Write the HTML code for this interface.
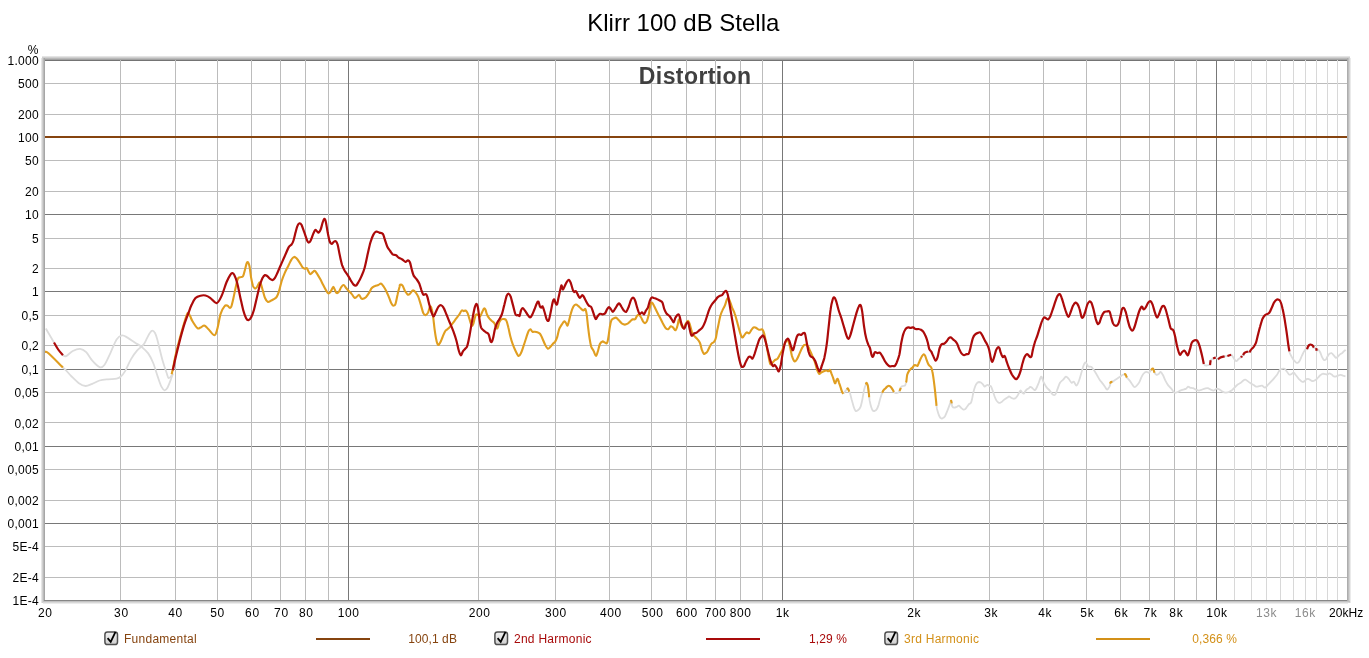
<!DOCTYPE html>
<html><head><meta charset="utf-8"><title>Klirr 100 dB Stella</title>
<style>
html,body{margin:0;padding:0;background:#fff;}
body{width:1369px;height:658px;overflow:hidden;position:relative;font-family:"Liberation Sans",sans-serif;}
svg{position:absolute;left:0;top:0;will-change:transform;}
text{font-family:"Liberation Sans",sans-serif;}
</style></head><body>
<svg width="1369" height="658" viewBox="0 0 1369 658">
<defs>
<linearGradient id="cb" x1="0" y1="0" x2="0" y2="1"><stop offset="0" stop-color="#f2f2f2"/><stop offset="1" stop-color="#cfcfcf"/></linearGradient>
<clipPath id="cp"><rect x="45.0" y="61.0" width="1302.0" height="539.0"/></clipPath>
</defs>
<rect x="0" y="0" width="1369" height="658" fill="#ffffff"/>
<rect x="44" y="60" width="1304" height="1" fill="#747474" shape-rendering="crispEdges"/>
<g shape-rendering="crispEdges" stroke-width="1">
<line x1="45.0" y1="577.5" x2="1347.0" y2="577.5" stroke="#bcbcbc"/>
<line x1="45.0" y1="546.5" x2="1347.0" y2="546.5" stroke="#bcbcbc"/>
<line x1="45.0" y1="500.5" x2="1347.0" y2="500.5" stroke="#bcbcbc"/>
<line x1="45.0" y1="469.5" x2="1347.0" y2="469.5" stroke="#bcbcbc"/>
<line x1="45.0" y1="422.5" x2="1347.0" y2="422.5" stroke="#bcbcbc"/>
<line x1="45.0" y1="392.5" x2="1347.0" y2="392.5" stroke="#bcbcbc"/>
<line x1="45.0" y1="345.5" x2="1347.0" y2="345.5" stroke="#bcbcbc"/>
<line x1="45.0" y1="315.5" x2="1347.0" y2="315.5" stroke="#bcbcbc"/>
<line x1="45.0" y1="268.5" x2="1347.0" y2="268.5" stroke="#bcbcbc"/>
<line x1="45.0" y1="238.5" x2="1347.0" y2="238.5" stroke="#bcbcbc"/>
<line x1="45.0" y1="191.5" x2="1347.0" y2="191.5" stroke="#bcbcbc"/>
<line x1="45.0" y1="160.5" x2="1347.0" y2="160.5" stroke="#bcbcbc"/>
<line x1="45.0" y1="114.5" x2="1347.0" y2="114.5" stroke="#bcbcbc"/>
<line x1="45.0" y1="83.5" x2="1347.0" y2="83.5" stroke="#bcbcbc"/>
<line x1="45.0" y1="523.5" x2="1347.0" y2="523.5" stroke="#787878"/>
<line x1="45.0" y1="446.5" x2="1347.0" y2="446.5" stroke="#787878"/>
<line x1="45.0" y1="369.5" x2="1347.0" y2="369.5" stroke="#787878"/>
<line x1="45.0" y1="291.5" x2="1347.0" y2="291.5" stroke="#787878"/>
<line x1="45.0" y1="214.5" x2="1347.0" y2="214.5" stroke="#787878"/>
<line x1="45.0" y1="137.5" x2="1347.0" y2="137.5" stroke="#787878"/>
<line x1="120.5" y1="60.0" x2="120.5" y2="600.0" stroke="#bcbcbc"/>
<line x1="175.5" y1="60.0" x2="175.5" y2="600.0" stroke="#bcbcbc"/>
<line x1="217.5" y1="60.0" x2="217.5" y2="600.0" stroke="#bcbcbc"/>
<line x1="251.5" y1="60.0" x2="251.5" y2="600.0" stroke="#bcbcbc"/>
<line x1="280.5" y1="60.0" x2="280.5" y2="600.0" stroke="#bcbcbc"/>
<line x1="305.5" y1="60.0" x2="305.5" y2="600.0" stroke="#bcbcbc"/>
<line x1="328.5" y1="60.0" x2="328.5" y2="600.0" stroke="#bcbcbc"/>
<line x1="478.5" y1="60.0" x2="478.5" y2="600.0" stroke="#bcbcbc"/>
<line x1="555.5" y1="60.0" x2="555.5" y2="600.0" stroke="#bcbcbc"/>
<line x1="609.5" y1="60.0" x2="609.5" y2="600.0" stroke="#bcbcbc"/>
<line x1="651.5" y1="60.0" x2="651.5" y2="600.0" stroke="#bcbcbc"/>
<line x1="686.5" y1="60.0" x2="686.5" y2="600.0" stroke="#bcbcbc"/>
<line x1="715.5" y1="60.0" x2="715.5" y2="600.0" stroke="#bcbcbc"/>
<line x1="740.5" y1="60.0" x2="740.5" y2="600.0" stroke="#bcbcbc"/>
<line x1="762.5" y1="60.0" x2="762.5" y2="600.0" stroke="#bcbcbc"/>
<line x1="913.5" y1="60.0" x2="913.5" y2="600.0" stroke="#bcbcbc"/>
<line x1="989.5" y1="60.0" x2="989.5" y2="600.0" stroke="#bcbcbc"/>
<line x1="1043.5" y1="60.0" x2="1043.5" y2="600.0" stroke="#bcbcbc"/>
<line x1="1086.5" y1="60.0" x2="1086.5" y2="600.0" stroke="#bcbcbc"/>
<line x1="1120.5" y1="60.0" x2="1120.5" y2="600.0" stroke="#bcbcbc"/>
<line x1="1149.5" y1="60.0" x2="1149.5" y2="600.0" stroke="#bcbcbc"/>
<line x1="1174.5" y1="60.0" x2="1174.5" y2="600.0" stroke="#bcbcbc"/>
<line x1="1196.5" y1="60.0" x2="1196.5" y2="600.0" stroke="#bcbcbc"/>
<line x1="1234.5" y1="60.0" x2="1234.5" y2="600.0" stroke="#d8d8d8"/>
<line x1="1251.5" y1="60.0" x2="1251.5" y2="600.0" stroke="#d8d8d8"/>
<line x1="1266.5" y1="60.0" x2="1266.5" y2="600.0" stroke="#d8d8d8"/>
<line x1="1280.5" y1="60.0" x2="1280.5" y2="600.0" stroke="#d8d8d8"/>
<line x1="1293.5" y1="60.0" x2="1293.5" y2="600.0" stroke="#d8d8d8"/>
<line x1="1305.5" y1="60.0" x2="1305.5" y2="600.0" stroke="#d8d8d8"/>
<line x1="1316.5" y1="60.0" x2="1316.5" y2="600.0" stroke="#d8d8d8"/>
<line x1="1327.5" y1="60.0" x2="1327.5" y2="600.0" stroke="#d8d8d8"/>
<line x1="1337.5" y1="60.0" x2="1337.5" y2="600.0" stroke="#d8d8d8"/>
<line x1="348.5" y1="60.0" x2="348.5" y2="600.0" stroke="#787878"/>
<line x1="782.5" y1="60.0" x2="782.5" y2="600.0" stroke="#787878"/>
<line x1="1216.5" y1="60.0" x2="1216.5" y2="600.0" stroke="#787878"/>
</g>
<g clip-path="url(#cp)">
<path d="M62.9 367.4 C63.3 367.8 64.1 368.3 65.5 369.8 C67.0 371.4 69.4 374.3 71.6 376.5 C73.8 378.7 76.6 381.6 78.9 383.2 C81.2 384.8 83.4 385.9 85.6 386.0 C87.8 386.1 89.9 384.7 92.3 383.8 C94.6 382.9 96.9 381.3 99.6 380.5 C102.2 379.8 105.2 379.6 108.1 379.3 C110.9 379.0 114.4 379.2 116.6 378.7 C118.7 378.2 119.4 377.8 120.8 376.5 C122.2 375.2 123.4 374.0 125.1 371.1 C126.8 368.1 129.1 362.3 131.2 358.9 C133.2 355.5 135.2 352.7 137.2 350.4 C139.3 348.1 141.7 346.9 143.3 344.9 C144.9 342.9 145.9 340.3 147.0 338.2 C148.1 336.2 149.1 334.0 150.0 332.8 C150.9 331.5 151.6 330.7 152.4 330.7 C153.2 330.7 154.1 331.3 154.9 332.8 C155.7 334.2 156.5 336.7 157.3 339.4 C158.1 342.2 158.8 345.5 159.7 349.2 C160.6 352.8 161.7 357.5 162.8 361.3 C163.9 365.2 165.4 369.5 166.4 372.3 C167.4 375.1 167.8 377.8 168.7 378.2 C169.7 378.6 171.6 375.4 172.1 374.8" fill="none" stroke="#dcdcdc" stroke-width="1.8" stroke-linejoin="round" stroke-linecap="butt"/>
<path d="M843.4 393.7 C843.7 393.4 844.3 392.3 844.9 391.6 C845.5 390.9 846.2 390.0 846.8 389.5 C847.3 389.0 847.6 388.1 848.0 388.5 C848.4 388.8 848.9 390.9 849.2 391.6 C849.6 392.3 849.5 391.5 849.9 392.8 C850.3 394.2 851.1 397.4 851.7 399.7 C852.4 401.9 853.0 404.6 853.6 406.5 C854.2 408.4 854.7 410.2 855.5 410.8 C856.2 411.5 857.1 410.8 857.9 410.2 C858.8 409.6 859.7 408.9 860.4 407.1 C861.1 405.4 861.7 402.6 862.3 399.7 C862.9 396.8 863.6 392.3 864.1 389.7 C864.7 387.2 865.3 385.7 865.8 384.5 C866.2 383.4 866.3 382.7 866.6 382.9 C867.0 383.2 867.5 384.5 867.9 386.0 C868.2 387.6 868.4 389.7 868.7 392.2 C869.1 394.7 869.3 398.4 869.7 400.9 C870.2 403.4 870.7 405.5 871.2 407.1 C871.7 408.7 872.3 410.0 872.8 410.6 C873.4 411.2 874.0 411.1 874.7 410.8 C875.4 410.6 876.3 410.0 876.9 409.0 C877.6 407.9 878.1 406.4 878.7 404.6 C879.2 402.9 879.7 400.4 880.3 398.4 C880.9 396.5 881.6 394.2 882.2 392.8 C882.7 391.5 882.9 391.1 883.4 390.4 C883.9 389.6 884.6 389.1 885.3 388.5 C885.9 387.9 886.5 387.1 887.1 386.6 C887.7 386.2 888.4 385.7 889.0 385.8 C889.6 385.8 890.2 386.3 890.8 387.0 C891.5 387.7 892.2 388.9 892.7 389.7 C893.2 390.6 893.5 391.5 894.0 392.0 C894.4 392.5 894.6 392.7 895.2 392.8 C895.8 393.0 897.0 393.2 897.7 392.8 C898.4 392.5 899.0 391.8 899.5 391.0 C900.1 390.2 900.5 388.6 900.8 387.9 C901.1 387.1 901.0 386.9 901.4 386.6 C901.8 386.3 902.6 386.2 903.3 386.0 C903.9 385.8 904.7 386.0 905.1 385.4 C905.6 384.8 905.9 383.0 906.0 382.5" fill="none" stroke="#dcdcdc" stroke-width="1.8" stroke-linejoin="round" stroke-linecap="butt"/>
<path d="M936.5 405.9 C936.6 406.4 936.7 407.5 937.0 409.0 C937.4 410.4 938.1 413.1 938.7 414.6 C939.2 416.1 939.9 417.4 940.5 418.0 C941.1 418.7 941.7 418.6 942.4 418.3 C943.1 418.0 944.0 417.7 944.9 416.4 C945.7 415.2 946.6 412.6 947.3 410.8 C948.1 409.1 948.7 407.4 949.2 405.9 C949.8 404.4 950.4 402.8 950.7 401.9 C951.0 401.0 951.0 400.4 951.2 400.7 C951.4 400.9 951.5 402.4 951.7 403.4 C951.9 404.4 951.9 405.8 952.3 406.5 C952.7 407.2 953.5 407.7 954.2 407.7 C954.9 407.8 955.9 407.2 956.7 406.9 C957.4 406.5 958.2 405.5 958.9 405.6 C959.6 405.8 960.2 407.1 961.0 407.7 C961.8 408.4 962.8 409.4 963.5 409.6 C964.2 409.8 964.7 409.5 965.4 409.0 C966.0 408.5 966.6 407.3 967.2 406.5 C967.8 405.7 968.5 404.6 969.1 404.0 C969.7 403.4 970.4 403.7 970.9 402.8 C971.5 401.8 971.8 400.2 972.2 398.4 C972.6 396.7 972.9 394.3 973.4 392.2 C973.9 390.2 974.7 387.6 975.3 386.0 C975.9 384.5 976.5 383.6 977.2 382.9 C977.8 382.2 978.4 382.1 979.0 382.0 C979.6 382.0 980.3 382.2 980.9 382.5 C981.5 382.9 982.1 383.5 982.7 384.1 C983.4 384.8 984.0 386.4 984.6 386.6 C985.2 386.8 985.7 385.7 986.2 385.4 C986.7 385.1 987.1 384.7 987.7 384.8 C988.3 384.9 989.0 385.7 989.6 386.0 C990.1 386.3 990.5 385.6 991.0 386.4 C991.5 387.3 992.2 389.3 992.8 391.0 C993.4 392.7 994.0 394.9 994.6 396.5 C995.2 398.1 995.9 399.6 996.5 400.6 C997.1 401.6 997.7 402.0 998.3 402.4 C998.9 402.8 999.5 403.0 1000.1 402.8 C1000.7 402.7 1001.3 402.2 1001.9 401.8 C1002.5 401.3 1003.1 400.4 1003.8 399.9 C1004.4 399.4 1005.0 399.1 1005.6 398.7 C1006.2 398.3 1006.8 398.0 1007.4 397.6 C1008.0 397.1 1008.5 396.3 1009.0 396.3 C1009.6 396.3 1010.0 397.0 1010.6 397.4 C1011.2 397.7 1011.8 398.1 1012.4 398.3 C1013.0 398.5 1013.6 398.9 1014.2 398.7 C1014.8 398.6 1015.5 398.2 1016.1 397.6 C1016.7 396.9 1017.4 396.0 1017.9 395.1 C1018.4 394.2 1018.8 393.1 1019.3 392.4 C1019.7 391.6 1020.2 390.5 1020.6 390.5 C1021.1 390.5 1021.5 391.8 1022.0 392.4 C1022.5 392.9 1023.3 393.9 1023.8 393.7 C1024.3 393.6 1024.6 392.2 1025.2 391.4 C1025.7 390.7 1026.4 389.7 1027.0 389.2 C1027.6 388.6 1028.3 388.6 1028.8 388.3 C1029.4 387.9 1029.7 387.0 1030.2 386.9 C1030.7 386.8 1031.4 387.3 1032.0 387.8 C1032.6 388.3 1033.3 389.2 1033.8 389.6 C1034.4 390.0 1034.7 390.4 1035.2 390.1 C1035.7 389.8 1036.0 388.9 1036.6 387.8 C1037.1 386.7 1037.8 385.1 1038.4 383.7 C1039.0 382.3 1039.5 380.3 1040.0 379.1 C1040.5 378.0 1040.8 376.2 1041.5 376.7 C1042.1 377.3 1042.9 380.9 1043.8 382.7 C1044.7 384.5 1045.8 386.3 1046.8 387.6 C1047.8 388.9 1048.8 389.4 1049.8 390.6 C1050.8 391.7 1051.8 393.9 1052.7 394.5 C1053.7 395.2 1054.5 395.5 1055.3 394.5 C1056.1 393.5 1056.9 390.6 1057.7 388.6 C1058.5 386.6 1059.1 384.2 1060.0 382.7 C1061.0 381.2 1062.2 380.7 1063.2 379.7 C1064.2 378.7 1065.1 376.9 1066.0 376.7 C1066.9 376.6 1067.6 377.7 1068.5 378.7 C1069.5 379.7 1070.6 382.2 1071.5 382.7 C1072.4 383.2 1073.1 381.2 1073.9 381.7 C1074.7 382.2 1075.6 385.8 1076.5 385.6 C1077.3 385.5 1078.2 382.8 1079.0 380.7 C1079.8 378.6 1080.6 375.4 1081.4 372.8 C1082.2 370.2 1083.0 366.6 1083.8 364.9 C1084.5 363.2 1085.0 362.2 1085.7 362.5 C1086.5 362.8 1087.4 365.7 1088.3 366.5 C1089.2 367.2 1090.4 366.3 1091.3 366.9 C1092.2 367.4 1092.7 368.5 1093.7 369.8 C1094.6 371.1 1095.8 373.1 1096.8 374.8 C1097.8 376.4 1098.6 378.2 1099.6 379.7 C1100.6 381.2 1101.8 382.4 1102.7 383.7 C1103.7 384.9 1104.4 386.0 1105.1 387.0 C1105.8 388.0 1106.4 389.7 1107.1 389.6 C1107.8 389.5 1108.8 387.9 1109.5 386.6 C1110.1 385.4 1110.4 382.9 1110.8 382.1 C1111.3 381.3 1111.9 382.1 1112.4 381.9 C1113.0 381.7 1113.3 381.2 1114.0 380.7 C1114.8 380.2 1116.0 379.4 1117.0 378.7 C1118.0 378.1 1119.0 377.4 1119.9 376.7 C1120.9 376.1 1122.0 375.2 1122.9 374.8 C1123.8 374.4 1124.8 373.9 1125.5 374.4 C1126.1 374.8 1126.3 376.6 1126.9 377.5 C1127.4 378.4 1128.0 378.7 1128.8 379.7 C1129.7 380.7 1130.9 382.4 1131.8 383.7 C1132.7 384.9 1133.5 386.7 1134.4 387.0 C1135.2 387.4 1136.0 386.4 1136.7 385.6 C1137.5 384.9 1138.3 384.2 1139.1 382.7 C1139.9 381.2 1140.8 378.4 1141.7 376.7 C1142.5 375.1 1143.4 373.6 1144.3 372.8 C1145.1 372.0 1145.8 371.8 1146.6 371.8 C1147.4 371.8 1148.3 373.1 1149.0 372.8 C1149.7 372.5 1150.3 370.7 1151.0 370.0 C1151.6 369.3 1152.4 368.2 1153.0 368.6 C1153.5 369.1 1153.9 371.8 1154.5 372.8 C1155.1 373.8 1155.8 374.6 1156.5 374.8 C1157.2 374.9 1158.2 374.3 1158.9 373.8 C1159.5 373.3 1159.8 371.6 1160.5 371.8 C1161.1 372.0 1162.0 373.3 1162.8 374.8 C1163.7 376.2 1164.5 378.9 1165.4 380.7 C1166.3 382.5 1167.4 384.3 1168.4 385.6 C1169.4 387.0 1170.3 387.5 1171.3 388.6 C1172.3 389.8 1173.3 392.0 1174.3 392.6 C1175.3 393.2 1176.3 392.5 1177.3 392.2 C1178.3 391.8 1179.2 391.0 1180.2 390.6 C1181.2 390.2 1182.2 389.9 1183.2 389.6 C1184.2 389.3 1185.3 389.1 1186.2 388.6 C1187.0 388.1 1187.5 386.8 1188.1 386.6 C1188.8 386.5 1189.2 387.4 1190.0 387.6 C1190.8 387.9 1192.0 387.9 1193.0 388.2 C1194.0 388.5 1194.9 389.2 1195.9 389.6 C1196.9 390.0 1197.9 390.6 1198.9 390.6 C1199.9 390.6 1200.9 389.9 1201.9 389.6 C1202.8 389.3 1203.8 388.8 1204.8 388.6 C1205.8 388.4 1206.8 388.0 1207.8 388.2 C1208.8 388.4 1209.8 389.2 1210.8 389.6 C1211.7 390.0 1212.7 390.7 1213.7 390.6 C1214.7 390.4 1215.7 388.8 1216.7 388.6 C1217.7 388.4 1218.7 389.1 1219.7 389.6 C1220.6 390.1 1221.6 391.1 1222.6 391.6 C1223.6 392.1 1224.6 392.5 1225.6 392.6 C1226.6 392.7 1227.6 392.5 1228.5 392.2 C1229.5 391.8 1230.5 391.3 1231.5 390.6 C1232.5 389.8 1233.5 388.6 1234.5 387.6 C1235.5 386.6 1236.5 385.4 1237.4 384.7 C1238.4 383.9 1239.5 383.7 1240.4 383.1 C1241.3 382.4 1242.2 381.3 1243.0 380.7 C1243.8 380.1 1244.6 379.6 1245.3 379.7 C1246.1 379.8 1246.9 380.5 1247.7 381.1 C1248.5 381.7 1249.4 382.5 1250.3 383.1 C1251.2 383.7 1252.3 384.1 1253.3 384.7 C1254.2 385.2 1255.2 386.4 1256.2 386.6 C1257.2 386.9 1258.2 386.4 1259.2 386.2 C1260.2 386.1 1261.2 385.4 1262.2 385.6 C1263.1 385.9 1264.1 387.8 1265.1 387.6 C1266.1 387.5 1267.1 385.6 1268.1 384.7 C1269.1 383.7 1270.1 382.7 1271.0 381.7 C1272.0 380.6 1273.0 379.5 1274.0 378.3 C1275.0 377.2 1276.0 376.2 1277.0 374.8 C1278.0 373.3 1279.1 370.6 1280.0 369.6 C1280.9 368.6 1281.5 368.9 1282.3 368.8 C1283.0 368.7 1283.8 368.4 1284.6 368.8 C1285.3 369.3 1286.1 370.5 1286.8 371.5 C1287.6 372.4 1288.4 374.1 1289.1 374.5 C1289.9 375.0 1290.6 374.5 1291.4 374.1 C1292.2 373.8 1292.9 372.4 1293.7 372.6 C1294.4 372.8 1295.1 374.2 1296.0 375.3 C1296.8 376.4 1298.0 378.0 1299.0 379.1 C1300.0 380.1 1301.1 381.4 1302.0 381.7 C1302.9 382.1 1303.6 381.8 1304.3 381.4 C1305.1 380.9 1305.8 379.5 1306.6 379.1 C1307.4 378.7 1308.1 378.8 1308.9 379.1 C1309.6 379.3 1310.4 380.3 1311.2 380.6 C1311.9 380.9 1312.7 381.1 1313.4 381.0 C1314.2 380.8 1315.0 380.4 1315.7 379.8 C1316.5 379.3 1317.2 378.3 1318.0 377.6 C1318.8 376.8 1319.5 375.9 1320.3 375.3 C1321.0 374.6 1321.8 373.9 1322.6 373.8 C1323.3 373.6 1324.1 374.0 1324.8 374.1 C1325.6 374.3 1326.4 374.6 1327.1 374.5 C1327.9 374.4 1328.6 373.4 1329.4 373.4 C1330.2 373.4 1330.9 374.0 1331.7 374.5 C1332.4 375.0 1333.2 376.1 1334.0 376.4 C1334.7 376.7 1335.5 376.6 1336.2 376.4 C1337.0 376.2 1337.8 375.5 1338.5 375.3 C1339.3 375.0 1340.0 374.8 1340.8 374.9 C1341.6 375.0 1342.3 375.4 1343.1 375.7 C1343.9 375.9 1345.1 376.3 1345.5 376.4" fill="none" stroke="#dcdcdc" stroke-width="1.8" stroke-linejoin="round" stroke-linecap="butt"/>
<path d="M45.8 328.5 L54.0 342.5" fill="none" stroke="#dcdcdc" stroke-width="1.8" stroke-linejoin="round" stroke-linecap="butt"/>
<path d="M62.9 355.2 C63.4 355.4 64.5 356.8 66.1 356.1 C67.8 355.4 70.5 352.2 72.8 351.0 C75.1 349.8 77.9 348.6 80.1 348.8 C82.3 349.0 84.2 350.2 86.2 352.2 C88.2 354.2 90.0 358.2 92.3 360.7 C94.5 363.2 97.5 366.5 99.6 367.2 C101.6 367.9 102.6 367.4 104.4 365.0 C106.2 362.6 108.5 357.1 110.5 352.8 C112.5 348.6 114.7 342.3 116.6 339.4 C118.5 336.6 120.2 335.7 122.0 335.4 C123.9 335.1 125.4 336.4 127.5 337.6 C129.6 338.8 132.4 340.9 134.8 342.5 C137.2 344.1 139.9 345.5 142.1 347.3 C144.3 349.2 146.4 350.9 148.2 353.4 C150.0 356.0 151.4 358.6 153.0 362.5 C154.7 366.5 156.5 373.1 157.9 377.1 C159.3 381.2 160.4 384.7 161.6 386.9 C162.7 389.0 163.6 390.2 164.6 390.3 C165.6 390.4 166.5 389.4 167.6 387.5 C168.7 385.5 170.4 380.7 171.3 378.3 C172.2 376.0 172.8 374.3 173.1 373.5" fill="none" stroke="#dcdcdc" stroke-width="1.8" stroke-linejoin="round" stroke-linecap="butt"/>
<path d="M1203.8 363.9 C1204.1 364.1 1204.7 365.1 1205.2 365.4 C1205.6 365.7 1206.1 365.6 1206.7 365.5 C1207.2 365.5 1208.0 365.2 1208.5 365.1 C1209.0 365.0 1209.4 365.2 1209.7 364.9 C1210.0 364.7 1210.1 364.4 1210.2 363.6 C1210.4 362.8 1210.2 361.1 1210.7 360.2 C1211.2 359.4 1212.3 358.9 1213.1 358.5 C1214.0 358.0 1215.0 357.4 1215.7 357.4 C1216.3 357.4 1216.6 358.1 1217.0 358.4 C1217.4 358.7 1217.6 359.4 1218.1 359.3 C1218.7 359.1 1219.3 357.9 1220.4 357.4 C1221.4 357.0 1223.5 356.6 1224.6 356.4 C1225.8 356.2 1226.3 356.2 1227.4 356.0 C1228.4 355.7 1230.4 354.9 1231.1 354.8 C1231.9 354.7 1231.4 354.7 1231.9 355.4 C1232.4 356.0 1233.3 357.7 1234.0 358.7 C1234.8 359.7 1235.5 361.0 1236.2 361.1 C1236.9 361.2 1237.6 359.9 1238.3 359.3 C1239.0 358.8 1240.0 358.1 1240.4 357.8 C1240.9 357.5 1240.8 357.9 1241.1 357.6 C1241.3 357.3 1241.6 356.4 1241.9 356.0 C1242.3 355.6 1242.8 355.7 1243.2 355.2 C1243.6 354.7 1243.5 353.6 1244.4 353.0 C1245.2 352.4 1247.4 351.6 1248.1 351.4 C1248.9 351.3 1248.7 352.0 1248.9 352.1 C1249.1 352.3 1249.3 352.4 1249.4 352.4" fill="none" stroke="#dcdcdc" stroke-width="1.8" stroke-linejoin="round" stroke-linecap="butt"/>
<path d="M1289.4 351.4 C1289.4 351.6 1289.2 351.7 1289.5 352.5 C1289.8 353.3 1290.7 355.0 1291.4 356.3 C1292.1 357.5 1292.9 359.1 1293.7 360.1 C1294.4 361.1 1295.3 361.9 1296.0 362.4 C1296.7 362.8 1297.2 363.1 1297.9 362.7 C1298.5 362.4 1299.1 361.7 1299.8 360.5 C1300.5 359.3 1301.3 357.1 1302.0 355.5 C1302.8 353.9 1303.6 352.0 1304.3 351.0 C1305.0 349.9 1305.8 349.3 1306.2 349.1 C1306.7 348.8 1306.7 349.7 1307.0 349.2 C1307.3 348.8 1307.7 347.1 1308.1 346.4 C1308.5 345.7 1308.9 345.3 1309.3 345.0 C1309.6 344.7 1310.0 344.5 1310.4 344.5 C1310.8 344.5 1311.4 344.7 1311.8 344.9 C1312.2 345.1 1312.5 345.3 1312.8 345.8 C1313.2 346.2 1313.4 347.2 1313.8 347.6 C1314.2 348.0 1314.7 348.0 1315.1 348.1 C1315.5 348.1 1316.0 347.6 1316.2 348.1 C1316.5 348.5 1316.3 350.4 1316.7 350.7 C1317.1 350.9 1317.8 349.5 1318.4 349.8 C1319.0 350.1 1319.6 351.2 1320.3 352.5 C1320.9 353.7 1321.5 356.1 1322.2 357.4 C1322.8 358.7 1323.4 359.8 1324.1 360.1 C1324.7 360.4 1325.3 360.0 1326.0 359.3 C1326.6 358.6 1327.2 356.8 1327.9 355.9 C1328.5 354.9 1329.1 354.1 1329.8 353.6 C1330.4 353.2 1331.0 353.0 1331.7 353.2 C1332.3 353.5 1332.9 354.4 1333.6 355.1 C1334.3 355.9 1335.2 357.5 1335.9 357.8 C1336.5 358.0 1337.1 357.2 1337.8 356.7 C1338.4 356.1 1339.3 355.0 1340.0 354.4 C1340.8 353.7 1341.6 353.4 1342.3 352.9 C1343.0 352.3 1343.6 351.5 1344.2 351.0 C1344.8 350.5 1345.5 350.0 1345.7 349.8" fill="none" stroke="#dcdcdc" stroke-width="1.8" stroke-linejoin="round" stroke-linecap="butt"/>
<line x1="45.0" y1="137" x2="1347.0" y2="137" stroke="#86440f" stroke-width="2" shape-rendering="crispEdges"/>
<path d="M43.6 351.4 C44.0 351.4 44.7 351.5 45.5 351.8 C46.3 352.2 45.6 350.7 48.5 353.3 C51.4 355.9 60.5 365.1 62.9 367.4" fill="none" stroke="#e09e20" stroke-width="2.1" stroke-linejoin="round" stroke-linecap="butt"/>
<path d="M171.6 374.3 C171.8 373.5 172.1 372.6 172.8 369.3 C173.5 366.0 174.6 359.4 175.8 354.3 C177.0 349.1 178.5 343.2 179.8 338.2 C181.2 333.2 182.5 328.3 183.8 324.2 C185.1 320.0 186.6 314.5 187.6 313.1 C188.7 311.8 189.2 314.8 190.1 316.1 C190.9 317.5 191.2 319.1 192.5 321.2 C193.7 323.2 196.1 327.1 197.5 328.2 C198.8 329.2 199.3 328.0 200.5 327.6 C201.7 327.1 203.2 325.3 204.5 325.6 C205.8 325.8 206.8 327.6 208.5 329.2 C210.2 330.8 213.0 335.4 214.5 335.2 C216.0 335.0 216.5 331.7 217.5 328.2 C218.5 324.7 219.4 317.8 220.5 314.1 C221.7 310.5 223.4 307.5 224.6 306.1 C225.7 304.7 226.7 305.4 227.6 305.7 C228.4 306.0 228.9 307.5 229.6 307.7 C230.2 307.9 230.7 308.2 231.3 306.7 C231.9 305.3 232.4 302.5 233.3 298.8 C234.1 295.2 235.4 288.5 236.2 285.0 C237.0 281.5 237.4 279.4 238.2 278.1 C239.0 276.8 240.3 277.4 241.2 277.1 C242.0 276.8 242.5 277.4 243.1 276.1 C243.8 274.8 244.5 271.3 245.1 269.2 C245.7 267.0 246.2 264.4 246.7 263.3 C247.2 262.1 247.6 261.8 248.1 262.3 C248.5 262.8 249.0 263.8 249.5 266.2 C250.0 268.7 250.5 273.8 251.0 277.1 C251.6 280.4 252.4 284.1 253.0 286.0 C253.7 287.9 254.3 288.4 255.0 288.6 C255.7 288.7 256.3 288.0 257.0 287.0 C257.7 286.0 258.7 283.1 259.3 282.6 C260.0 282.1 260.3 282.6 260.9 284.0 C261.5 285.4 262.2 288.6 262.9 290.9 C263.6 293.2 264.1 296.0 264.9 297.8 C265.7 299.7 266.9 301.3 267.8 301.8 C268.8 302.3 269.8 301.2 270.8 300.8 C271.8 300.4 272.8 299.9 273.8 299.2 C274.8 298.6 275.9 298.2 276.7 296.9 C277.6 295.5 278.3 293.6 279.1 290.9 C279.9 288.3 280.8 284.0 281.7 281.0 C282.6 278.1 283.5 275.8 284.7 273.1 C285.8 270.5 287.5 267.5 288.6 265.2 C289.8 262.9 290.6 260.7 291.6 259.3 C292.5 257.9 293.3 257.1 294.1 256.9 C295.0 256.8 295.6 257.4 296.5 258.3 C297.4 259.2 298.5 260.8 299.5 262.3 C300.5 263.8 301.6 266.1 302.4 267.2 C303.3 268.3 304.1 268.6 304.8 268.8 C305.5 269.0 306.2 267.8 306.8 268.2 C307.4 268.6 307.8 270.2 308.4 271.2 C309.0 272.2 309.6 274.0 310.3 274.1 C311.1 274.3 312.0 272.7 312.7 272.2 C313.4 271.6 313.9 270.4 314.7 270.8 C315.5 271.1 316.3 272.7 317.3 274.1 C318.2 275.5 319.2 277.3 320.2 279.1 C321.2 280.9 322.2 283.1 323.2 285.0 C324.2 286.9 325.3 289.2 326.2 290.5 C327.0 291.9 327.4 293.1 328.1 293.3 C328.9 293.5 329.7 293.0 330.5 291.9 C331.3 290.9 332.4 287.5 333.1 287.0 C333.7 286.5 333.9 288.0 334.5 289.0 C335.0 289.9 335.7 292.4 336.4 292.9 C337.2 293.4 338.0 292.9 338.8 291.9 C339.6 290.9 340.5 288.1 341.3 287.0 C342.2 285.8 342.9 284.8 343.7 285.0 C344.5 285.2 345.3 287.0 346.1 288.0 C346.9 289.0 347.7 289.9 348.7 290.9 C349.6 291.9 350.6 292.7 351.6 293.9 C352.6 295.0 353.8 297.4 354.6 297.8 C355.4 298.3 355.8 297.4 356.6 296.9 C357.3 296.4 358.4 294.7 359.1 294.9 C359.9 295.1 360.5 297.6 361.1 298.2 C361.8 298.9 362.3 299.0 363.1 298.8 C363.9 298.7 364.9 298.2 365.9 297.3 C366.8 296.3 368.0 294.5 369.0 292.9 C370.0 291.4 370.8 289.1 371.8 288.0 C372.8 286.8 373.9 286.5 375.0 286.0 C376.0 285.5 377.3 285.4 378.3 285.0 C379.3 284.6 380.1 283.5 380.9 283.6 C381.7 283.8 382.4 284.8 383.3 286.0 C384.1 287.2 385.2 289.0 386.2 290.9 C387.2 292.9 388.3 295.7 389.2 297.8 C390.1 300.0 390.8 302.5 391.6 303.8 C392.3 305.1 392.9 305.8 393.5 305.8 C394.2 305.8 394.9 305.6 395.5 303.8 C396.2 302.0 396.8 297.7 397.5 294.9 C398.1 292.1 399.0 288.7 399.5 287.0 C399.9 285.3 399.5 285.1 400.0 284.8 C400.5 284.6 401.5 284.4 402.4 285.4 C403.2 286.4 404.0 289.2 404.9 290.8 C405.9 292.3 407.0 294.3 407.9 294.7 C408.8 295.1 409.5 294.1 410.3 293.3 C411.1 292.6 412.0 290.6 412.8 290.4 C413.7 290.2 414.5 291.1 415.4 292.1 C416.3 293.2 417.3 294.6 418.2 296.7 C419.1 298.8 419.9 301.9 420.8 304.6 C421.6 307.3 422.5 311.3 423.3 313.1 C424.1 314.8 424.9 315.2 425.7 315.1 C426.5 315.0 427.3 313.9 428.1 312.5 C428.8 311.1 429.5 307.2 430.0 306.6 C430.6 305.9 431.1 306.7 431.6 308.5 C432.2 310.4 432.7 314.0 433.2 317.4 C433.7 320.9 434.1 325.7 434.6 329.3 C435.1 332.9 435.6 336.6 436.2 339.2 C436.7 341.8 437.3 344.1 438.0 344.7 C438.6 345.4 439.2 344.4 439.9 343.1 C440.7 341.9 441.6 339.2 442.5 337.2 C443.4 335.2 444.2 332.6 445.1 331.3 C445.9 330.0 446.6 330.1 447.4 329.3 C448.3 328.5 449.4 327.5 450.4 326.3 C451.4 325.2 452.4 323.7 453.4 322.4 C454.4 321.1 455.3 319.7 456.3 318.4 C457.3 317.1 458.4 315.8 459.3 314.5 C460.2 313.2 460.9 311.1 461.7 310.5 C462.4 310.0 463.0 311.1 463.7 311.1 C464.3 311.1 465.0 310.2 465.6 310.5 C466.3 310.9 466.9 311.6 467.6 313.1 C468.3 314.6 468.9 317.4 469.6 319.4 C470.2 321.5 471.0 324.5 471.6 325.3 C472.2 326.2 472.6 325.5 473.1 324.4 C473.7 323.2 474.2 320.1 474.7 318.4 C475.2 316.8 475.5 315.0 476.1 314.5 C476.7 313.9 477.4 314.7 478.1 315.1 C478.7 315.4 479.4 316.9 480.1 316.5 C480.7 316.0 481.4 313.8 482.0 312.5 C482.7 311.2 483.5 309.0 484.0 308.5 C484.6 308.1 484.9 308.5 485.4 309.5 C485.9 310.5 486.3 313.0 487.0 314.5 C487.6 316.0 488.5 317.3 489.3 318.4 C490.2 319.5 491.1 320.2 491.9 321.0 C492.8 321.8 493.7 322.2 494.5 323.4 C495.2 324.6 495.9 327.7 496.5 328.3 C497.0 329.0 497.4 328.3 497.8 327.3 C498.3 326.3 498.7 323.7 499.2 322.4 C499.8 321.1 500.5 320.0 501.2 319.4 C502.0 318.9 502.9 318.9 503.8 319.0 C504.6 319.2 505.6 319.0 506.3 320.4 C507.1 321.8 507.7 324.7 508.3 327.3 C509.0 330.0 509.6 333.4 510.3 336.2 C511.0 339.0 511.8 341.7 512.7 344.1 C513.6 346.6 514.7 349.1 515.6 351.0 C516.6 353.0 517.7 355.7 518.6 356.0 C519.5 356.3 520.2 354.7 521.0 353.0 C521.8 351.4 522.7 348.6 523.5 346.1 C524.4 343.6 525.3 340.7 526.1 338.2 C526.9 335.7 527.8 332.8 528.5 331.3 C529.2 329.8 529.8 329.2 530.5 329.3 C531.1 329.4 531.7 331.3 532.4 331.7 C533.2 332.1 534.0 331.6 534.8 331.7 C535.6 331.8 536.5 331.9 537.4 332.3 C538.2 332.6 539.1 332.7 540.0 333.7 C540.8 334.6 541.4 336.3 542.3 338.2 C543.2 340.1 544.4 343.4 545.3 345.1 C546.2 346.9 547.0 348.3 547.9 348.7 C548.7 349.0 549.4 347.9 550.2 347.1 C551.0 346.3 551.8 345.1 552.6 344.1 C553.4 343.2 554.4 342.7 555.2 341.6 C555.9 340.4 556.5 339.3 557.2 337.2 C557.8 335.2 558.3 331.5 559.1 329.3 C559.9 327.1 561.1 325.6 562.0 324.2 C562.8 322.9 563.7 321.5 564.3 321.3 C565.0 321.0 565.4 322.1 565.9 322.9 C566.5 323.6 567.0 325.9 567.5 325.6 C568.0 325.4 568.3 323.3 568.9 321.3 C569.5 319.2 570.1 315.8 570.9 313.4 C571.6 310.9 572.6 307.9 573.4 306.5 C574.3 305.0 575.0 304.6 575.8 304.5 C576.6 304.4 577.4 305.2 578.2 305.9 C579.0 306.5 579.9 307.7 580.8 308.4 C581.6 309.2 582.6 310.3 583.3 310.4 C584.1 310.5 584.7 308.4 585.3 309.0 C585.9 309.7 586.2 311.3 586.7 314.4 C587.1 317.4 587.6 323.1 588.1 327.2 C588.6 331.3 589.1 335.8 589.7 339.1 C590.2 342.3 590.6 344.6 591.2 346.6 C591.9 348.6 592.8 349.4 593.6 350.9 C594.4 352.5 595.3 355.9 596.0 355.9 C596.7 355.9 597.3 352.9 598.0 350.9 C598.6 349.0 599.2 345.6 599.9 344.0 C600.7 342.4 601.6 341.7 602.5 341.4 C603.4 341.2 604.3 342.4 605.1 342.6 C605.8 342.9 606.5 343.9 607.0 343.0 C607.6 342.1 608.0 339.7 608.4 337.1 C608.9 334.5 609.3 330.0 609.8 327.2 C610.3 324.4 610.7 321.8 611.4 320.3 C612.1 318.8 612.9 318.7 613.8 318.3 C614.6 317.9 615.5 317.4 616.3 317.7 C617.2 318.1 618.0 319.4 618.9 320.3 C619.8 321.2 620.7 322.5 621.7 323.3 C622.7 324.0 623.8 324.6 624.8 324.6 C625.8 324.7 626.7 324.2 627.6 323.7 C628.5 323.1 629.3 322.0 630.2 321.3 C631.0 320.6 631.9 319.6 632.7 319.3 C633.6 319.0 634.4 319.9 635.1 319.3 C635.8 318.7 636.4 316.5 637.1 315.7 C637.8 315.0 638.4 314.7 639.1 315.0 C639.7 315.2 640.4 316.3 641.0 317.3 C641.7 318.4 642.4 320.3 643.0 321.3 C643.7 322.3 644.3 323.3 645.0 323.3 C645.7 323.2 646.3 322.5 647.0 320.9 C647.6 319.2 648.4 316.1 649.0 313.4 C649.5 310.6 650.0 306.3 650.5 304.5 C651.0 302.7 651.4 302.3 651.9 302.5 C652.5 302.7 653.1 303.9 653.9 305.5 C654.7 307.0 655.9 309.8 656.9 311.8 C657.8 313.8 658.8 315.4 659.8 317.3 C660.8 319.2 661.8 321.4 662.8 323.3 C663.8 325.1 664.8 327.2 665.8 328.2 C666.7 329.2 667.5 329.5 668.3 329.2 C669.1 328.9 669.9 326.5 670.7 326.2 C671.5 326.0 672.2 326.9 673.1 327.6 C673.9 328.3 674.9 330.6 675.6 330.2 C676.4 329.8 677.1 327.0 677.6 325.2 C678.2 323.4 678.4 319.5 679.0 319.3 C679.6 319.1 680.3 322.8 681.0 324.2 C681.6 325.7 682.2 328.2 683.0 328.2 C683.7 328.2 684.7 325.5 685.5 324.2 C686.4 323.0 687.3 320.7 688.1 320.9 C688.9 321.0 689.4 323.4 690.1 325.2 C690.7 327.1 691.3 330.3 692.0 332.2 C692.8 334.0 693.5 335.0 694.4 336.1 C695.3 337.3 696.5 337.9 697.4 339.1 C698.3 340.2 699.2 341.2 700.0 343.0 C700.7 344.8 701.3 348.1 701.9 349.9 C702.6 351.8 703.2 353.4 703.9 353.9 C704.6 354.4 705.3 353.3 705.9 352.9 C706.5 352.5 706.6 352.8 707.5 351.3 C708.3 349.8 710.1 345.6 711.2 344.0 C712.2 342.5 713.0 343.0 713.8 342.1 C714.5 341.1 715.2 340.4 715.7 338.5 C716.3 336.7 716.7 333.3 717.1 331.0 C717.6 328.7 718.0 327.0 718.5 324.5 C719.0 322.0 719.7 318.3 720.3 316.0 C720.9 313.7 721.5 312.4 722.3 310.6 C723.0 308.9 724.1 307.5 724.8 305.7 C725.6 303.9 726.2 301.1 726.8 299.8 C727.4 298.4 727.7 297.6 728.2 297.8 C728.7 298.0 729.1 299.1 729.8 300.8 C730.4 302.4 731.3 305.5 732.1 307.7 C733.0 309.8 733.9 311.1 734.7 313.6 C735.6 316.1 736.5 319.5 737.3 322.5 C738.1 325.5 738.9 328.9 739.7 331.4 C740.4 333.9 741.3 336.6 742.0 337.3 C742.7 338.1 743.2 336.6 744.0 335.7 C744.8 334.9 745.7 332.8 746.6 332.4 C747.4 332.0 748.4 333.7 749.1 333.4 C749.9 333.0 750.4 331.4 751.1 330.4 C751.8 329.4 752.7 327.9 753.5 327.4 C754.3 327.0 755.0 327.5 755.9 327.8 C756.7 328.2 757.7 329.1 758.4 329.4 C759.2 329.7 759.7 329.8 760.4 329.8 C761.1 329.8 761.7 328.7 762.4 329.4 C763.0 330.2 763.7 331.9 764.4 334.4 C765.0 336.8 765.7 340.8 766.3 344.2 C767.0 347.7 767.7 351.8 768.3 355.1 C769.0 358.4 769.6 362.7 770.3 364.0 C770.9 365.3 771.5 363.7 772.3 363.0 C773.0 362.4 774.0 360.7 774.8 360.1 C775.7 359.4 776.4 359.9 777.2 359.1 C778.0 358.2 778.8 356.6 779.6 355.1 C780.4 353.6 781.4 351.8 782.2 350.2 C782.9 348.5 783.5 346.7 784.1 345.2 C784.8 343.8 785.4 342.1 786.1 341.3 C786.8 340.5 787.4 339.3 788.1 340.3 C788.7 341.3 789.4 344.6 790.1 347.2 C790.7 349.8 791.3 353.7 792.0 356.1 C792.8 358.5 793.8 360.9 794.6 361.4 C795.4 361.9 796.2 360.3 797.0 359.1 C797.8 357.9 798.5 355.9 799.3 354.1 C800.2 352.3 801.2 349.7 801.9 348.2 C802.7 346.7 803.2 345.8 803.9 345.2 C804.6 344.7 805.2 344.7 805.9 344.8 C806.5 345.0 807.2 345.3 807.8 346.2 C808.5 347.1 809.1 348.5 809.8 350.2 C810.6 351.8 811.6 354.1 812.4 356.1 C813.2 358.1 814.0 359.7 814.8 362.0 C815.6 364.3 816.4 368.0 817.1 369.9 C817.9 371.9 818.5 373.5 819.1 373.9 C819.8 374.3 820.3 372.9 821.1 372.5 C821.9 372.1 822.8 371.7 823.7 371.3 C824.5 371.0 825.5 370.5 826.2 370.5 C827.0 370.5 827.6 371.3 828.2 371.3 C828.8 371.3 829.5 370.8 829.8 370.5 C830.1 370.3 829.7 369.4 830.0 369.9 C830.3 370.4 831.0 372.2 831.5 373.6 C832.0 374.9 832.5 376.3 833.1 377.9 C833.7 379.6 834.4 382.9 835.0 383.3 C835.5 383.7 836.0 381.2 836.5 380.4 C836.9 379.7 837.3 378.5 837.7 378.8 C838.1 379.1 838.5 380.9 838.9 382.3 C839.4 383.7 840.0 385.6 840.6 387.3 C841.1 388.9 841.7 391.1 842.2 392.2 C842.6 393.3 843.2 393.5 843.4 393.7" fill="none" stroke="#e09e20" stroke-width="2.1" stroke-linejoin="round" stroke-linecap="butt"/>
<path d="M846.8 389.5 C847.0 389.3 847.6 388.1 848.0 388.5 C848.4 388.8 849.0 391.1 849.2 391.6" fill="none" stroke="#e09e20" stroke-width="2.1" stroke-linejoin="round" stroke-linecap="butt"/>
<path d="M865.8 384.5 C865.9 384.3 866.3 382.7 866.6 382.9 C867.0 383.2 867.5 384.5 867.9 386.0 C868.2 387.6 868.5 390.4 868.7 392.2 C869.0 394.1 869.1 396.4 869.1 397.2" fill="none" stroke="#e09e20" stroke-width="2.1" stroke-linejoin="round" stroke-linecap="butt"/>
<path d="M882.2 392.8 C882.4 392.4 882.9 391.1 883.4 390.4 C883.9 389.6 884.6 389.1 885.3 388.5 C885.9 387.9 886.5 387.1 887.1 386.6 C887.7 386.2 888.4 385.7 889.0 385.8 C889.6 385.8 890.2 386.3 890.8 387.0 C891.5 387.7 892.2 388.9 892.7 389.7 C893.2 390.6 893.7 391.6 894.0 392.0" fill="none" stroke="#e09e20" stroke-width="2.1" stroke-linejoin="round" stroke-linecap="butt"/>
<path d="M899.5 391.0 L900.8 387.9" fill="none" stroke="#e09e20" stroke-width="2.1" stroke-linejoin="round" stroke-linecap="butt"/>
<path d="M906.0 382.5 C906.1 382.3 906.2 382.3 906.4 381.0 C906.6 379.8 906.8 376.5 907.2 374.8 C907.7 373.2 908.3 372.1 908.9 371.1 C909.4 370.1 910.1 369.5 910.7 368.9 C911.3 368.3 912.0 368.0 912.6 367.4 C913.2 366.8 913.8 365.5 914.4 365.1 C915.1 364.8 915.8 365.4 916.3 365.5 C916.8 365.6 917.1 366.3 917.5 365.9 C918.0 365.5 918.3 364.1 918.8 363.0 C919.3 361.9 919.8 360.5 920.4 359.3 C921.0 358.1 921.6 356.8 922.1 356.0 C922.7 355.1 923.3 354.4 923.8 354.3 C924.2 354.3 924.5 354.7 925.0 355.6 C925.5 356.5 926.1 358.6 926.6 359.9 C927.1 361.3 927.6 362.7 928.1 363.7 C928.6 364.7 929.1 365.3 929.6 365.9 C930.1 366.5 930.7 366.4 931.2 367.4 C931.7 368.4 932.0 369.7 932.4 371.7 C932.9 373.8 933.3 376.8 933.7 379.8 C934.1 382.8 934.6 386.6 934.9 389.7 C935.3 392.8 935.5 395.7 935.8 398.4 C936.1 401.1 936.4 404.6 936.5 405.9" fill="none" stroke="#e09e20" stroke-width="2.1" stroke-linejoin="round" stroke-linecap="butt"/>
<path d="M950.7 401.9 C950.8 401.7 951.0 400.4 951.2 400.7 C951.4 400.9 951.6 402.9 951.7 403.4" fill="none" stroke="#e09e20" stroke-width="2.1" stroke-linejoin="round" stroke-linecap="butt"/>
<path d="M1110.1 383.7 C1110.2 383.4 1110.5 382.4 1110.8 382.1 C1111.2 381.8 1112.2 381.9 1112.4 381.9" fill="none" stroke="#e09e20" stroke-width="2.1" stroke-linejoin="round" stroke-linecap="butt"/>
<path d="M1124.1 374.4 C1124.3 374.4 1125.0 373.8 1125.5 374.4 C1125.9 374.9 1126.6 377.0 1126.9 377.5" fill="none" stroke="#e09e20" stroke-width="2.1" stroke-linejoin="round" stroke-linecap="butt"/>
<path d="M1151.0 370.0 C1151.3 369.8 1152.4 368.2 1153.0 368.6 C1153.5 369.1 1154.3 372.1 1154.5 372.8" fill="none" stroke="#e09e20" stroke-width="2.1" stroke-linejoin="round" stroke-linecap="butt"/>
<path d="M54.0 342.5 C54.7 343.7 56.8 347.4 58.2 349.5 C59.7 351.7 62.1 354.3 62.9 355.2" fill="none" stroke="#ac0a0a" stroke-width="2.2" stroke-linejoin="round" stroke-linecap="butt"/>
<path d="M172.8 370.3 C173.4 367.6 175.1 359.6 176.4 354.3 C177.7 348.9 179.1 343.2 180.4 338.2 C181.8 333.2 183.1 328.3 184.4 324.2 C185.8 320.0 187.3 316.3 188.4 313.1 C189.6 310.0 190.3 307.6 191.5 305.1 C192.6 302.6 194.0 299.7 195.5 298.1 C197.0 296.5 198.8 296.1 200.5 295.7 C202.2 295.2 203.8 295.1 205.5 295.5 C207.2 295.9 208.7 296.8 210.5 298.1 C212.4 299.4 214.7 303.4 216.5 303.1 C218.4 302.8 219.9 299.6 221.5 296.1 C223.2 292.6 225.1 285.6 226.6 282.0 C228.1 278.4 229.6 275.9 230.6 274.4 C231.5 272.9 231.7 273.1 232.3 273.1 C232.9 273.2 233.4 273.1 234.2 274.7 C235.1 276.4 236.2 279.3 237.2 283.0 C238.2 286.7 239.2 292.4 240.2 296.9 C241.2 301.3 242.2 306.2 243.1 309.7 C244.1 313.3 245.2 316.5 246.1 318.2 C247.0 320.0 247.7 320.3 248.5 320.2 C249.3 320.1 250.1 319.4 251.0 317.6 C252.0 315.9 253.0 313.2 254.0 309.7 C255.0 306.2 256.0 301.0 257.0 296.9 C258.0 292.7 259.0 288.1 259.9 285.0 C260.9 281.9 261.7 279.7 262.5 278.1 C263.3 276.4 264.1 275.4 264.9 275.1 C265.7 274.8 266.4 275.5 267.3 276.1 C268.1 276.7 269.0 278.0 269.8 278.7 C270.7 279.3 271.6 280.2 272.4 280.1 C273.2 280.0 273.9 279.4 274.8 278.1 C275.7 276.8 276.7 274.3 277.7 272.2 C278.7 270.0 279.5 267.9 280.7 265.2 C281.9 262.6 283.3 259.3 284.7 256.3 C286.0 253.4 287.5 249.4 288.6 247.4 C289.8 245.5 290.7 245.6 291.6 244.5 C292.4 243.3 292.9 242.5 293.5 240.5 C294.2 238.5 294.9 235.1 295.5 232.6 C296.2 230.1 296.8 227.2 297.5 225.7 C298.2 224.1 298.8 223.5 299.5 223.3 C300.1 223.2 300.6 223.2 301.5 224.7 C302.3 226.3 303.4 229.9 304.4 232.6 C305.4 235.4 306.6 239.5 307.4 241.1 C308.1 242.8 308.4 242.6 309.0 242.5 C309.5 242.4 310.0 242.0 310.7 240.5 C311.5 239.0 312.6 235.4 313.3 233.6 C314.1 231.9 314.6 230.4 315.3 230.0 C315.9 229.7 316.7 231.2 317.3 231.6 C317.8 232.1 318.1 232.9 318.7 232.6 C319.2 232.3 320.0 231.3 320.6 229.7 C321.3 228.0 322.0 224.5 322.6 222.7 C323.2 220.9 323.7 218.9 324.2 218.8 C324.7 218.6 325.2 219.4 325.8 221.7 C326.4 224.1 327.1 229.3 327.7 232.6 C328.4 235.9 329.1 239.6 329.7 241.5 C330.4 243.4 331.0 243.8 331.7 243.9 C332.4 243.9 333.0 242.4 333.7 241.9 C334.3 241.4 335.0 240.7 335.7 241.1 C336.3 241.5 336.9 242.1 337.6 244.5 C338.3 246.8 339.0 251.9 339.8 255.3 C340.5 258.8 341.3 262.7 342.1 265.2 C343.0 267.8 343.8 269.1 344.7 270.8 C345.6 272.4 346.7 273.6 347.7 275.1 C348.7 276.7 349.7 278.5 350.6 280.1 C351.6 281.6 352.7 283.7 353.6 284.6 C354.5 285.5 355.2 286.0 356.0 285.6 C356.8 285.2 357.6 283.6 358.5 282.0 C359.5 280.5 360.5 278.4 361.5 276.1 C362.5 273.8 363.5 271.7 364.5 268.2 C365.5 264.7 366.5 259.6 367.4 255.3 C368.4 251.1 369.4 246.0 370.4 242.5 C371.4 239.0 372.4 236.4 373.4 234.6 C374.4 232.8 375.3 232.0 376.3 231.6 C377.3 231.3 378.2 232.2 379.3 232.6 C380.4 233.0 381.9 232.8 382.9 234.0 C383.8 235.2 384.1 237.5 384.8 239.5 C385.6 241.6 386.3 244.5 387.2 246.5 C388.1 248.4 389.3 249.7 390.2 251.0 C391.1 252.3 391.8 253.6 392.7 254.4 C393.7 255.1 395.1 254.8 396.1 255.3 C397.1 255.9 397.7 257.1 398.7 257.7 C399.7 258.4 400.9 258.6 402.0 259.3 C403.2 260.0 404.4 261.7 405.4 261.9 C406.4 262.0 407.2 260.2 408.0 260.3 C408.7 260.4 409.3 260.6 409.9 262.3 C410.6 263.9 411.2 267.7 411.9 270.0 C412.5 272.3 413.0 274.3 413.8 275.9 C414.7 277.5 415.9 278.2 416.8 279.5 C417.7 280.8 418.6 282.1 419.4 283.8 C420.1 285.6 420.7 288.0 421.3 289.8 C422.0 291.6 422.6 294.0 423.3 294.7 C424.1 295.4 425.0 293.8 425.7 294.1 C426.4 294.4 426.7 294.9 427.3 296.7 C427.9 298.4 428.6 302.1 429.3 304.6 C429.9 307.1 430.5 309.5 431.2 311.5 C432.0 313.5 432.9 316.3 433.6 316.5 C434.3 316.6 434.8 314.1 435.6 312.5 C436.4 310.9 437.6 307.8 438.5 306.6 C439.5 305.4 440.3 305.0 441.1 305.2 C441.9 305.4 442.6 306.0 443.5 307.6 C444.4 309.1 445.5 312.1 446.5 314.5 C447.4 316.8 448.3 319.2 449.4 321.8 C450.5 324.4 451.8 327.2 453.0 330.3 C454.1 333.4 455.3 336.7 456.3 340.2 C457.3 343.6 458.1 348.5 458.9 351.0 C459.7 353.6 460.2 355.3 460.9 355.4 C461.5 355.5 462.1 352.6 462.9 351.4 C463.6 350.3 464.5 349.6 465.2 348.7 C466.0 347.8 466.5 348.3 467.2 346.1 C467.9 343.9 468.8 339.5 469.6 335.2 C470.4 330.9 471.3 325.0 472.2 320.4 C473.0 315.8 474.0 310.3 474.7 307.6 C475.5 304.8 476.1 303.8 476.7 304.0 C477.3 304.2 477.6 306.0 478.1 308.5 C478.5 311.1 479.0 316.3 479.5 319.4 C480.0 322.5 480.4 325.5 481.0 327.3 C481.7 329.1 482.6 329.5 483.4 330.3 C484.2 331.1 485.1 331.6 486.0 332.3 C486.8 332.9 487.8 332.8 488.6 334.2 C489.3 335.7 490.0 339.9 490.5 341.2 C491.1 342.4 491.5 342.2 491.9 341.6 C492.4 340.9 492.8 339.3 493.3 337.2 C493.8 335.2 494.3 331.6 494.9 329.3 C495.5 327.0 496.1 325.0 496.9 323.4 C497.6 321.7 498.4 320.9 499.2 319.4 C500.1 317.9 500.9 316.9 501.8 314.5 C502.7 312.0 503.5 307.7 504.4 304.6 C505.2 301.5 506.0 297.5 506.7 295.7 C507.5 293.9 508.1 293.6 508.7 293.7 C509.4 293.9 510.0 294.7 510.7 296.7 C511.4 298.7 512.2 302.6 513.1 305.6 C513.9 308.5 514.8 312.9 515.6 314.5 C516.5 316.1 517.6 314.8 518.2 315.1 C518.9 315.3 519.1 316.6 519.6 315.9 C520.1 315.1 520.5 311.8 521.0 310.5 C521.5 309.2 521.9 308.0 522.6 308.0 C523.2 308.0 524.1 309.4 524.9 310.5 C525.8 311.6 526.6 313.3 527.5 314.5 C528.4 315.6 529.3 317.3 530.1 317.4 C530.8 317.5 531.3 316.4 532.0 315.1 C532.8 313.8 533.6 311.4 534.4 309.5 C535.2 307.6 536.1 304.9 536.8 303.6 C537.4 302.3 537.8 301.1 538.4 301.6 C538.9 302.1 539.5 305.6 540.0 306.6 C540.4 307.6 540.9 307.6 541.3 307.6 C541.8 307.6 542.2 305.7 542.7 306.6 C543.3 307.4 544.0 310.4 544.7 312.5 C545.4 314.6 546.0 318.1 546.7 319.4 C547.3 320.7 548.0 321.6 548.7 320.4 C549.3 319.3 550.0 315.5 550.6 312.5 C551.3 309.5 552.0 304.8 552.6 302.6 C553.2 300.4 553.7 299.1 554.2 299.3 C554.7 299.4 555.3 302.8 555.8 303.6 C556.3 304.4 556.7 305.0 557.2 304.0 C557.6 303.0 558.0 300.2 558.5 297.7 C559.1 295.1 560.0 290.8 560.5 288.8 C561.0 286.7 561.2 285.2 561.6 285.3 C562.0 285.4 562.4 289.6 563.0 289.7 C563.5 289.7 564.3 287.0 564.9 285.7 C565.6 284.4 566.3 282.7 566.9 281.7 C567.6 280.8 568.2 279.5 568.9 279.8 C569.6 280.0 570.2 281.7 570.9 283.3 C571.5 285.0 572.3 288.2 572.8 289.7 C573.4 291.1 573.7 291.8 574.2 292.0 C574.7 292.3 575.2 290.8 575.8 291.2 C576.4 291.7 577.1 293.5 577.8 294.6 C578.4 295.7 579.0 297.9 579.8 298.0 C580.5 298.1 581.5 295.4 582.1 295.2 C582.8 295.0 583.1 295.7 583.7 296.6 C584.3 297.5 584.9 299.0 585.7 300.5 C586.5 302.0 587.7 304.4 588.7 305.5 C589.6 306.6 590.5 305.9 591.2 307.0 C592.0 308.2 592.5 310.4 593.2 312.4 C593.9 314.4 594.9 318.2 595.6 318.9 C596.3 319.6 596.8 317.2 597.6 316.3 C598.3 315.5 599.1 314.1 599.9 313.8 C600.8 313.4 601.6 314.4 602.5 314.4 C603.4 314.3 604.3 314.2 605.1 313.4 C605.8 312.5 606.4 310.5 607.0 309.4 C607.7 308.4 608.4 307.0 609.0 307.0 C609.7 307.0 610.3 308.6 611.0 309.4 C611.7 310.2 612.3 312.0 613.0 311.8 C613.7 311.6 614.6 309.6 615.3 308.4 C616.1 307.2 617.1 305.3 617.7 304.5 C618.4 303.7 618.7 303.2 619.3 303.5 C619.9 303.8 620.6 305.3 621.3 306.5 C622.0 307.6 622.8 309.5 623.7 310.4 C624.5 311.3 625.4 312.4 626.2 311.8 C627.1 311.1 628.0 308.5 628.8 306.5 C629.6 304.4 630.4 301.0 631.2 299.5 C631.9 298.1 632.5 297.4 633.1 297.6 C633.8 297.7 634.5 298.9 635.1 300.5 C635.8 302.2 636.4 305.2 637.1 307.4 C637.8 309.6 638.6 312.9 639.5 313.8 C640.3 314.6 641.3 312.3 642.0 312.4 C642.8 312.5 643.4 314.7 644.0 314.4 C644.7 314.0 645.3 311.6 646.0 310.4 C646.6 309.3 647.3 309.1 648.0 307.4 C648.6 305.8 649.3 302.2 649.9 300.5 C650.5 298.9 650.9 298.0 651.5 297.6 C652.2 297.1 653.0 297.7 653.9 298.0 C654.8 298.2 655.9 298.7 656.9 299.1 C657.8 299.6 658.9 300.0 659.8 300.5 C660.7 301.1 661.6 301.0 662.4 302.5 C663.2 304.0 663.6 307.5 664.4 309.4 C665.1 311.3 665.9 312.6 666.7 313.8 C667.6 314.9 668.9 315.4 669.7 316.3 C670.5 317.3 671.0 318.3 671.7 319.3 C672.3 320.3 673.0 322.6 673.7 322.3 C674.3 321.9 674.9 318.6 675.6 317.3 C676.4 316.0 677.6 314.5 678.2 314.4 C678.9 314.2 679.0 314.7 679.6 316.3 C680.2 318.0 680.8 322.2 681.6 324.2 C682.3 326.3 683.4 328.8 684.1 328.8 C684.9 328.8 685.5 325.3 686.1 324.2 C686.8 323.2 687.5 321.6 688.1 322.3 C688.7 322.9 688.9 326.0 689.5 328.2 C690.0 330.4 690.7 334.6 691.5 335.5 C692.2 336.4 693.2 334.0 694.0 333.5 C694.8 333.1 695.5 333.3 696.4 332.7 C697.3 332.2 698.4 331.0 699.4 330.2 C700.3 329.3 701.3 329.1 702.3 327.6 C703.3 326.1 704.4 323.7 705.3 321.3 C706.2 318.9 707.1 315.6 707.9 313.4 C708.6 311.1 709.2 309.3 710.0 307.7 C710.8 306.1 711.5 304.9 712.4 303.7 C713.2 302.6 714.1 301.8 714.9 300.8 C715.8 299.7 716.7 298.2 717.5 297.4 C718.3 296.6 719.1 296.2 719.9 295.8 C720.7 295.4 721.5 295.4 722.3 294.8 C723.0 294.2 723.6 292.9 724.2 292.3 C724.9 291.6 725.6 290.4 726.2 290.9 C726.8 291.3 727.2 292.4 727.8 294.8 C728.4 297.3 729.0 301.6 729.8 305.7 C730.5 309.8 731.3 314.8 732.1 319.5 C733.0 324.3 733.9 329.4 734.7 334.4 C735.6 339.3 736.5 344.7 737.3 349.2 C738.1 353.6 738.9 358.1 739.7 361.0 C740.4 363.9 740.9 365.8 741.6 366.6 C742.4 367.4 743.3 366.8 744.0 366.0 C744.7 365.1 745.2 362.9 746.0 361.4 C746.7 360.0 747.8 357.9 748.5 357.1 C749.3 356.3 749.9 356.4 750.5 356.7 C751.2 357.0 751.8 359.1 752.5 358.7 C753.2 358.2 753.7 356.2 754.5 354.1 C755.2 352.1 756.2 348.7 757.0 346.2 C757.9 343.8 758.6 340.9 759.4 339.3 C760.2 337.7 761.1 336.9 761.8 336.3 C762.4 335.7 762.8 335.1 763.4 335.7 C764.0 336.4 764.6 337.9 765.3 340.3 C766.1 342.7 766.9 346.9 767.7 350.2 C768.5 353.5 769.4 357.4 770.3 360.1 C771.1 362.7 772.1 365.2 772.9 366.0 C773.6 366.8 774.2 364.7 774.8 365.0 C775.5 365.3 776.2 366.9 776.8 368.0 C777.5 369.0 778.1 371.8 778.8 371.3 C779.4 370.8 780.1 368.0 780.8 365.0 C781.4 362.0 782.0 356.9 782.7 353.1 C783.5 349.4 784.3 344.7 785.1 342.3 C785.9 339.9 786.8 339.0 787.5 338.7 C788.1 338.4 788.5 339.0 789.1 340.3 C789.7 341.5 790.4 344.6 791.0 346.2 C791.7 347.9 792.4 350.7 793.0 350.2 C793.7 349.7 794.3 345.6 795.0 343.3 C795.7 340.9 796.3 337.8 797.0 336.3 C797.6 334.9 798.2 334.6 799.0 334.4 C799.7 334.1 800.7 335.1 801.3 335.0 C802.0 334.8 802.3 333.6 802.9 333.4 C803.5 333.1 804.3 332.1 804.9 333.4 C805.5 334.7 805.9 338.3 806.5 341.3 C807.1 344.2 807.8 348.7 808.4 351.2 C809.1 353.6 809.7 355.1 810.4 356.1 C811.1 357.2 812.0 356.7 812.8 357.5 C813.6 358.3 814.3 359.3 815.2 361.0 C816.0 362.8 817.0 366.3 817.7 368.0 C818.5 369.7 819.1 371.7 819.7 371.3 C820.4 371.0 820.9 368.2 821.7 366.0 C822.4 363.8 823.4 361.5 824.3 358.1 C825.1 354.6 825.9 350.3 826.6 345.2 C827.4 340.1 827.9 333.4 828.6 327.4 C829.3 321.5 829.9 314.3 830.6 309.7 C831.2 305.0 832.0 301.8 832.6 299.8 C833.2 297.7 833.5 297.2 834.1 297.4 C834.7 297.6 835.4 298.7 836.1 300.8 C836.8 302.8 837.6 306.7 838.5 309.7 C839.4 312.6 840.5 315.4 841.5 318.5 C842.4 321.7 843.5 325.5 844.4 328.4 C845.3 331.4 846.1 334.6 846.8 336.3 C847.4 338.1 847.8 339.1 848.4 338.9 C849.0 338.7 849.5 337.8 850.3 335.3 C851.2 332.9 852.3 328.1 853.3 324.5 C854.3 320.9 855.4 316.6 856.3 313.6 C857.2 310.6 857.9 308.1 858.7 306.7 C859.4 305.3 860.0 304.3 860.6 305.1 C861.2 305.9 861.6 307.9 862.2 311.6 C862.8 315.4 863.5 323.0 864.2 327.4 C864.8 331.9 865.4 335.3 866.2 338.3 C866.9 341.3 867.9 343.6 868.5 345.2 C869.2 346.9 869.5 346.6 870.0 348.2 C870.5 349.8 871.1 353.7 871.6 355.1 C872.1 356.5 872.4 357.2 873.0 356.7 C873.5 356.2 874.2 352.7 874.9 352.2 C875.7 351.6 876.7 353.0 877.5 353.1 C878.3 353.2 879.1 352.2 879.9 352.7 C880.7 353.2 881.4 354.7 882.3 356.1 C883.1 357.5 884.0 359.6 884.8 361.0 C885.7 362.5 886.6 363.7 887.4 364.6 C888.2 365.5 889.0 366.2 889.8 366.4 C890.6 366.6 891.3 366.1 892.1 366.0 C893.0 365.9 894.0 366.5 894.7 366.0 C895.5 365.4 895.9 364.4 896.7 362.6 C897.4 360.8 898.5 358.3 899.3 355.1 C900.0 351.9 900.6 346.7 901.2 343.3 C901.9 339.8 902.5 336.7 903.2 334.4 C903.9 332.0 904.8 330.2 905.6 329.0 C906.4 327.9 907.1 327.6 908.0 327.4 C908.8 327.2 909.7 327.8 910.5 327.8 C911.4 327.8 912.3 327.2 913.1 327.4 C913.9 327.6 914.6 328.8 915.5 329.0 C916.4 329.3 917.5 328.9 918.4 329.0 C919.4 329.2 920.2 329.4 921.0 329.8 C921.8 330.3 922.6 330.7 923.4 331.8 C924.2 332.9 925.0 334.6 925.7 336.3 C926.5 338.1 927.1 340.1 927.7 342.3 C928.3 344.4 928.7 347.6 929.3 349.2 C929.9 350.7 930.6 350.4 931.3 351.6 C931.9 352.7 932.5 354.6 933.3 356.1 C934.0 357.6 934.9 360.5 935.6 360.7 C936.4 360.8 936.9 359.2 937.6 357.1 C938.3 355.0 938.9 350.3 939.6 348.2 C940.2 346.1 940.8 345.0 941.6 344.2 C942.3 343.5 943.3 344.1 944.1 343.7 C945.0 343.2 945.9 342.2 946.7 341.3 C947.5 340.4 948.0 339.0 948.7 338.3 C949.3 337.7 949.9 337.2 950.7 337.3 C951.4 337.5 952.2 338.6 953.0 339.3 C953.8 340.0 954.7 340.5 955.4 341.3 C956.1 342.1 956.7 342.9 957.4 344.2 C958.0 345.6 958.7 347.7 959.3 349.2 C960.0 350.7 960.6 352.2 961.3 353.1 C962.1 354.1 963.0 355.0 963.9 355.1 C964.8 355.3 965.6 354.4 966.5 354.1 C967.3 353.9 968.1 354.9 968.8 353.5 C969.6 352.2 970.2 348.8 970.8 346.2 C971.5 343.7 972.1 340.3 972.8 338.3 C973.5 336.3 974.3 335.2 975.2 334.4 C976.0 333.5 976.9 333.3 977.7 333.0 C978.6 332.6 979.5 332.0 980.3 332.4 C981.1 332.8 981.6 334.0 982.3 335.3 C983.0 336.7 983.9 338.8 984.7 340.3 C985.4 341.8 986.3 342.8 987.0 344.2 C987.7 345.7 988.4 347.0 989.0 349.2 C989.6 351.3 990.1 355.0 990.6 357.1 C991.1 359.2 991.6 362.0 992.2 362.0 C992.8 362.0 993.5 359.1 994.1 357.1 C994.8 355.1 995.5 351.8 996.1 350.2 C996.8 348.5 997.5 347.5 998.1 347.2 C998.7 346.9 999.0 347.2 999.5 348.2 C999.9 349.2 1000.3 351.7 1000.9 353.1 C1001.4 354.6 1002.2 356.6 1002.8 357.1 C1003.5 357.6 1004.2 355.3 1004.8 356.1 C1005.5 356.9 1006.0 359.9 1006.8 362.0 C1007.5 364.2 1008.5 366.9 1009.4 369.0 C1010.2 371.0 1011.1 373.0 1011.9 374.5 C1012.8 376.0 1013.6 377.1 1014.3 377.8 C1015.0 378.6 1015.6 379.4 1016.3 379.2 C1016.9 379.1 1017.5 378.2 1018.3 376.9 C1019.0 375.5 1019.9 373.2 1020.6 370.9 C1021.4 368.6 1021.9 365.3 1022.6 363.0 C1023.3 360.7 1023.8 358.6 1024.6 357.1 C1025.3 355.6 1026.2 354.1 1027.2 354.1 C1028.1 354.1 1029.3 356.7 1030.0 357.0 C1030.7 357.3 1031.1 357.3 1031.6 356.0 C1032.1 354.7 1032.4 351.4 1033.0 349.1 C1033.5 346.8 1034.2 344.5 1034.9 342.2 C1035.7 339.8 1036.7 337.7 1037.5 335.2 C1038.3 332.8 1039.1 329.8 1039.9 327.3 C1040.7 324.9 1041.5 322.1 1042.3 320.4 C1043.0 318.8 1043.6 317.8 1044.2 317.4 C1044.9 317.1 1045.6 318.1 1046.2 318.4 C1046.9 318.8 1047.5 319.7 1048.2 319.4 C1048.8 319.1 1049.4 318.1 1050.2 316.5 C1050.9 314.8 1051.9 312.0 1052.7 309.5 C1053.6 307.1 1054.5 303.9 1055.3 301.6 C1056.1 299.3 1056.9 296.9 1057.7 295.7 C1058.4 294.4 1059.0 293.8 1059.7 294.1 C1060.3 294.4 1060.9 295.8 1061.6 297.7 C1062.4 299.6 1063.2 302.9 1064.0 305.6 C1064.8 308.2 1065.8 311.6 1066.6 313.5 C1067.3 315.4 1067.9 317.2 1068.5 317.0 C1069.2 316.9 1069.8 314.4 1070.5 312.5 C1071.3 310.6 1072.3 307.2 1073.1 305.6 C1073.9 303.9 1074.7 302.9 1075.5 302.6 C1076.2 302.4 1076.8 303.0 1077.4 304.0 C1078.1 305.0 1078.8 306.5 1079.4 308.5 C1080.1 310.6 1080.8 315.0 1081.4 316.5 C1082.0 317.9 1082.4 318.1 1083.0 317.4 C1083.6 316.8 1084.2 314.6 1085.0 312.5 C1085.7 310.4 1086.6 306.4 1087.3 304.6 C1088.1 302.8 1088.6 302.0 1089.3 301.6 C1090.0 301.3 1090.6 301.5 1091.3 302.6 C1091.9 303.8 1092.5 305.9 1093.3 308.5 C1094.0 311.2 1094.9 315.9 1095.6 318.4 C1096.4 321.0 1096.9 323.1 1097.6 323.8 C1098.3 324.4 1098.9 323.6 1099.6 322.4 C1100.2 321.2 1100.8 318.2 1101.6 316.5 C1102.3 314.7 1103.3 312.9 1104.1 312.1 C1105.0 311.3 1105.8 311.6 1106.7 311.5 C1107.6 311.4 1108.7 310.7 1109.5 311.5 C1110.2 312.3 1110.5 314.5 1111.0 316.5 C1111.6 318.4 1112.3 321.8 1113.0 323.4 C1113.7 324.9 1114.6 325.6 1115.4 325.7 C1116.2 325.9 1117.2 325.6 1118.0 324.4 C1118.7 323.1 1119.3 320.9 1119.9 318.4 C1120.6 316.0 1121.3 311.3 1121.9 309.5 C1122.6 307.8 1123.2 307.5 1123.9 308.0 C1124.6 308.4 1125.2 310.4 1125.9 312.5 C1126.5 314.6 1127.2 317.9 1127.8 320.4 C1128.5 322.9 1129.1 325.6 1129.8 327.3 C1130.6 329.0 1131.4 330.7 1132.2 330.7 C1133.0 330.7 1133.6 329.2 1134.4 327.3 C1135.1 325.4 1136.0 322.1 1136.7 319.4 C1137.5 316.8 1138.3 313.7 1139.1 311.5 C1139.9 309.4 1140.9 306.9 1141.7 306.6 C1142.4 306.2 1143.0 309.4 1143.7 309.5 C1144.3 309.7 1144.9 308.7 1145.6 307.6 C1146.4 306.4 1147.4 303.7 1148.2 302.6 C1149.0 301.6 1149.9 300.9 1150.6 301.2 C1151.3 301.6 1151.8 302.7 1152.6 304.6 C1153.3 306.5 1154.2 310.4 1154.9 312.5 C1155.7 314.6 1156.2 317.1 1156.9 317.4 C1157.6 317.8 1158.1 316.1 1158.9 314.5 C1159.6 312.8 1160.6 309.0 1161.5 307.6 C1162.3 306.1 1163.3 305.5 1164.0 306.0 C1164.8 306.5 1165.3 308.3 1166.0 310.5 C1166.7 312.8 1167.6 316.5 1168.4 319.4 C1169.2 322.4 1169.9 326.5 1170.7 328.3 C1171.6 330.1 1172.6 328.8 1173.3 330.3 C1174.1 331.8 1174.6 334.4 1175.3 337.2 C1175.9 340.0 1176.5 344.2 1177.3 347.1 C1178.0 350.0 1179.0 353.8 1179.8 354.6 C1180.7 355.4 1181.4 352.7 1182.2 352.0 C1183.0 351.4 1183.9 350.3 1184.6 350.7 C1185.3 351.0 1186.0 353.3 1186.6 354.0 C1187.2 354.7 1187.6 355.8 1188.1 355.0 C1188.7 354.2 1189.4 351.0 1190.0 349.1 C1190.6 347.1 1191.0 344.5 1191.6 343.1 C1192.2 341.8 1192.8 341.3 1193.6 340.8 C1194.3 340.3 1195.2 340.0 1195.9 340.2 C1196.7 340.3 1197.2 340.4 1197.9 341.6 C1198.6 342.7 1199.2 344.9 1199.9 347.1 C1200.5 349.3 1201.2 352.2 1201.9 355.0 C1202.5 357.8 1203.5 362.4 1203.8 363.9" fill="none" stroke="#ac0a0a" stroke-width="2.2" stroke-linejoin="round" stroke-linecap="butt"/>
<path d="M1210.0 365.1 C1210.1 364.7 1210.2 363.5 1210.3 362.7 C1210.4 361.8 1210.6 360.6 1210.7 360.2" fill="none" stroke="#ac0a0a" stroke-width="2.2" stroke-linejoin="round" stroke-linecap="butt"/>
<path d="M1213.1 358.5 L1215.7 357.4" fill="none" stroke="#ac0a0a" stroke-width="2.2" stroke-linejoin="round" stroke-linecap="butt"/>
<path d="M1218.1 359.3 C1218.5 359.0 1219.3 357.9 1220.4 357.4 C1221.4 357.0 1223.9 356.6 1224.6 356.4" fill="none" stroke="#ac0a0a" stroke-width="2.2" stroke-linejoin="round" stroke-linecap="butt"/>
<path d="M1227.4 356.0 L1231.1 354.8" fill="none" stroke="#ac0a0a" stroke-width="2.2" stroke-linejoin="round" stroke-linecap="butt"/>
<path d="M1241.1 357.6 L1241.9 356.0" fill="none" stroke="#ac0a0a" stroke-width="2.2" stroke-linejoin="round" stroke-linecap="butt"/>
<path d="M1243.2 355.2 C1243.4 354.8 1243.5 353.6 1244.4 353.0 C1245.2 352.4 1247.5 351.7 1248.1 351.4" fill="none" stroke="#ac0a0a" stroke-width="2.2" stroke-linejoin="round" stroke-linecap="butt"/>
<path d="M1249.4 352.4 C1249.7 352.0 1250.4 350.5 1251.1 349.6 C1251.7 348.7 1252.7 348.3 1253.5 347.2 C1254.3 346.0 1255.2 344.7 1255.9 342.9 C1256.6 341.1 1256.9 339.0 1257.6 336.2 C1258.3 333.5 1259.3 329.3 1260.2 326.3 C1261.0 323.4 1261.9 320.3 1262.7 318.4 C1263.6 316.6 1264.3 315.8 1265.1 315.1 C1265.9 314.3 1266.8 314.3 1267.5 313.9 C1268.2 313.5 1268.8 313.4 1269.5 312.5 C1270.1 311.6 1270.7 310.2 1271.4 308.5 C1272.2 306.9 1273.2 304.1 1274.0 302.6 C1274.9 301.1 1275.8 300.1 1276.6 299.7 C1277.3 299.2 1277.9 299.3 1278.6 299.7 C1279.2 300.0 1279.9 300.1 1280.5 301.6 C1281.2 303.1 1281.9 305.7 1282.5 308.5 C1283.2 311.3 1283.8 314.6 1284.5 318.4 C1285.1 322.2 1285.8 327.0 1286.5 331.3 C1287.1 335.6 1287.8 340.8 1288.2 344.1 C1288.7 347.5 1289.2 350.2 1289.4 351.4" fill="none" stroke="#ac0a0a" stroke-width="2.2" stroke-linejoin="round" stroke-linecap="butt"/>
<path d="M1307.0 349.2 C1307.2 348.7 1307.7 347.1 1308.1 346.4 C1308.5 345.7 1308.9 345.3 1309.3 345.0 C1309.6 344.7 1310.0 344.5 1310.4 344.5 C1310.8 344.5 1311.4 344.7 1311.8 344.9 C1312.2 345.1 1312.5 345.3 1312.8 345.8 C1313.2 346.2 1313.6 347.3 1313.8 347.6" fill="none" stroke="#ac0a0a" stroke-width="2.2" stroke-linejoin="round" stroke-linecap="butt"/>
<path d="M1316.2 348.1 L1316.7 350.7" fill="none" stroke="#ac0a0a" stroke-width="2.2" stroke-linejoin="round" stroke-linecap="butt"/>
</g>
<g shape-rendering="crispEdges">
<rect x="42" y="56" width="1308" height="1" fill="#e4e4e4"/>
<rect x="42" y="57" width="1308" height="1" fill="#d0d0d0"/>
<rect x="42" y="58" width="1308" height="1" fill="#bababa"/>
<rect x="42" y="59" width="1308" height="1" fill="#a2a2a2"/>
<rect x="41" y="58" width="1" height="545" fill="#e6e6e6"/>
<rect x="42" y="58" width="1" height="545" fill="#d0d0d0"/>
<rect x="43" y="58" width="1" height="545" fill="#bababa"/>
<rect x="44" y="58" width="1" height="545" fill="#a6a6a6"/>
<rect x="1347" y="58" width="1" height="545" fill="#adadad"/>
<rect x="1348" y="58" width="1" height="545" fill="#bdbdbd"/>
<rect x="1349" y="58" width="1" height="545" fill="#d2d2d2"/>
<rect x="1350" y="58" width="1" height="545" fill="#eaeaea"/>
<rect x="44" y="600" width="1303" height="1" fill="#868686"/>
<rect x="43" y="601" width="1307" height="1" fill="#c2c2c2"/>
<rect x="43" y="602" width="1306" height="1" fill="#d8d8d8"/>
<rect x="43" y="603" width="1305" height="1" fill="#ececec"/>
</g>
<text x="683.3" y="30.6" font-size="24" text-anchor="middle" fill="#000">Klirr 100 dB Stella</text>
<text x="695.2" y="83.5" font-size="23" font-weight="bold" letter-spacing="0.41" text-anchor="middle" fill="#404040">Distortion</text>
<g font-size="12" fill="#000" text-anchor="end" letter-spacing="0.3">
<text x="38.7" y="54">%</text>
<text x="39.0" y="65.0">1.000</text>
<text x="39.0" y="88.2">500</text>
<text x="39.0" y="118.9">200</text>
<text x="39.0" y="142.1">100</text>
<text x="39.0" y="165.4">50</text>
<text x="39.0" y="196.1">20</text>
<text x="39.0" y="219.3">10</text>
<text x="39.0" y="242.5">5</text>
<text x="39.0" y="273.2">2</text>
<text x="39.0" y="296.4">1</text>
<text x="39.0" y="319.7">0,5</text>
<text x="39.0" y="350.3">0,2</text>
<text x="39.0" y="373.6">0,1</text>
<text x="39.0" y="396.8">0,05</text>
<text x="39.0" y="427.5">0,02</text>
<text x="39.0" y="450.7">0,01</text>
<text x="39.0" y="473.9">0,005</text>
<text x="39.0" y="504.6">0,002</text>
<text x="39.0" y="527.9">0,001</text>
<text x="39.0" y="551.1">5E-4</text>
<text x="39.0" y="581.8">2E-4</text>
<text x="39.0" y="605.0">1E-4</text>
</g>
<g font-size="12" fill="#000" text-anchor="middle" letter-spacing="0.6">
<text x="45.35" y="617">20</text>
<text x="121.40" y="617">30</text>
<text x="175.50" y="617">40</text>
<text x="217.45" y="617">50</text>
<text x="252.40" y="617">60</text>
<text x="281.40" y="617">70</text>
<text x="306.25" y="617">80</text>
<text x="348.65" y="617">100</text>
<text x="479.65" y="617">200</text>
<text x="555.95" y="617">300</text>
<text x="610.85" y="617">400</text>
<text x="652.70" y="617">500</text>
<text x="686.85" y="617">600</text>
<text x="715.60" y="617">700</text>
<text x="740.55" y="617">800</text>
<text x="782.65" y="617">1k</text>
<text x="914.20" y="617">2k</text>
<text x="991.25" y="617">3k</text>
<text x="1045.25" y="617">4k</text>
<text x="1087.30" y="617">5k</text>
<text x="1121.30" y="617">6k</text>
<text x="1150.50" y="617">7k</text>
<text x="1176.30" y="617">8k</text>
<text x="1216.95" y="617">10k</text>
<text x="1266.55" y="617" fill="#8c8c8c">13k</text>
<text x="1305.40" y="617" fill="#8c8c8c">16k</text>
<text x="1363.4" y="617" text-anchor="end" letter-spacing="0.1">20kHz</text>
</g>
<rect x="104.9" y="632" width="12.6" height="12.6" rx="2.6" ry="2.6" fill="url(#cb)" stroke="#505050" stroke-width="1.5"/>
<path d="M107.6 638.2 l3.1 3.6 l4.8 -9.9" fill="none" stroke="#000" stroke-width="1.8" stroke-linejoin="miter"/>
<text x="124.0" y="643" font-size="12" letter-spacing="0.26" fill="#86440f">Fundamental</text>
<rect x="316.0" y="638" width="54" height="2" fill="#86440f" shape-rendering="crispEdges"/>
<text x="457.0" y="643" font-size="12" letter-spacing="0.1" fill="#86440f" text-anchor="end">100,1 dB</text>
<rect x="494.9" y="632" width="12.6" height="12.6" rx="2.6" ry="2.6" fill="url(#cb)" stroke="#505050" stroke-width="1.5"/>
<path d="M497.6 638.2 l3.1 3.6 l4.8 -9.9" fill="none" stroke="#000" stroke-width="1.8" stroke-linejoin="miter"/>
<text x="514.0" y="643" font-size="12" letter-spacing="0.26" fill="#a80a0a">2nd Harmonic</text>
<rect x="706.0" y="638" width="54" height="2" fill="#a80a0a" shape-rendering="crispEdges"/>
<text x="847.0" y="643" font-size="12" letter-spacing="0.1" fill="#a80a0a" text-anchor="end">1,29 %</text>
<rect x="884.9" y="632" width="12.6" height="12.6" rx="2.6" ry="2.6" fill="url(#cb)" stroke="#505050" stroke-width="1.5"/>
<path d="M887.6 638.2 l3.1 3.6 l4.8 -9.9" fill="none" stroke="#000" stroke-width="1.8" stroke-linejoin="miter"/>
<text x="904.0" y="643" font-size="12" letter-spacing="0.26" fill="#d39018">3rd Harmonic</text>
<rect x="1096.0" y="638" width="54" height="2" fill="#d39018" shape-rendering="crispEdges"/>
<text x="1237.0" y="643" font-size="12" letter-spacing="0.1" fill="#d39018" text-anchor="end">0,366 %</text>
</svg>
</body></html>
